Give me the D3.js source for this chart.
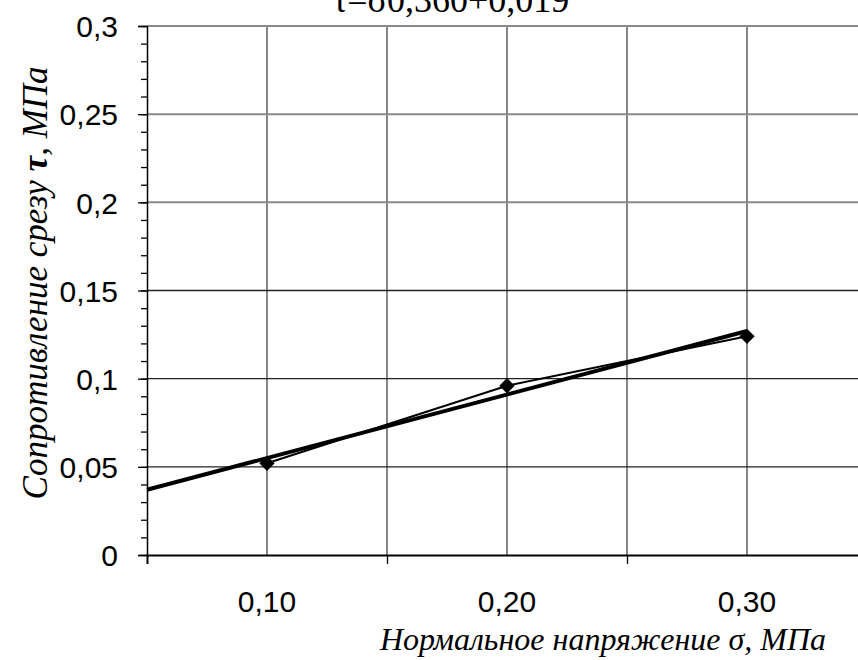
<!DOCTYPE html>
<html>
<head>
<meta charset="utf-8">
<script src="https://cdn.jsdelivr.net/npm/d3@7"></script>
<style>
  body { margin: 0; background: #fff; }
  svg { display: block; }
</style>
</head>
<body>
<div id="chart"></div>
<script>
// data
const sigma = [0.10, 0.20, 0.30];
const tau = [0.052, 0.096, 0.124];
const trendSlope = 0.360;
const trendIntercept = 0.019;
const trendRange = [0.05, 0.30];
const xTickLabels = ["0,10", "0,20", "0,30"];
const yTicks = [0, 0.05, 0.1, 0.15, 0.2, 0.25, 0.3];
const titleText = "τ=σ0,360+0,019";

const width = 858, height = 660;
const svg = d3.select("#chart").append("svg")
    .attr("width", width)
    .attr("height", height);

const x = d3.scaleLinear().domain([0.05, 0.35]).range([147, 867]);
const y = d3.scaleLinear().domain([0, 0.3]).range([555, 26]);

const sans = "Liberation Sans, Arial, sans-serif";
const serif = "Liberation Serif, Times New Roman, serif";

// gridlines
const xGrid = d3.range(0.10, 0.351, 0.05);
svg.append("g").selectAll("line")
    .data(xGrid)
    .enter()
    .append("line")
        .attr("x1", d => x(d)).attr("x2", d => x(d))
        .attr("y1", y(0)).attr("y2", y(0.3))
        .attr("stroke", "#444")
        .attr("stroke-width", 1.3);

svg.append("g").selectAll("line")
    .data(yTicks.slice(1))
    .enter()
    .append("line")
        .attr("x1", x(0.05)).attr("x2", width)
        .attr("y1", d => y(d)).attr("y2", d => y(d))
        .attr("stroke", d => d > 0.17 ? "#888" : "#222")
        .attr("stroke-width", d => d > 0.17 ? 2 : 1.3);

// y axis
const fmt = d => String(+d.toFixed(2)).replace(".", ",");
const yAxis = svg.append("g")
    .attr("transform", `translate(${x(0.05)},0)`)
    .call(d3.axisLeft(y).tickValues(yTicks).tickSize(9).tickPadding(20).tickFormat(fmt));
svg.append("g")
    .attr("transform", `translate(${x(0.05)},0)`)
    .call(d3.axisLeft(y).tickValues(d3.range(0, 0.301, 0.01)).tickSize(6).tickFormat(""))
    .select(".domain").remove();

yAxis.selectAll("text")
    .attr("font-family", sans)
    .attr("font-size", 30)
    .attr("fill", "#000")
    .attr("dy", "0.36em");

svg.selectAll(".tick line").attr("stroke", "#000").attr("stroke-width", 1.3);
yAxis.select(".domain").attr("stroke", "#000").attr("stroke-width", 1.5);

// x axis
const xAxis = svg.append("g")
    .attr("transform", `translate(0,${y(0)})`)
    .call(d3.axisBottom(x).tickValues([0.05, 0.15, 0.25]).tickSize(9).tickFormat(""));
xAxis.select(".domain").attr("stroke", "#000").attr("stroke-width", 1.8);
xAxis.selectAll(".tick line").attr("stroke", "#000").attr("stroke-width", 1.3);

svg.append("g").selectAll("text")
    .data(sigma)
    .enter()
    .append("text")
        .attr("x", d => x(d))
        .attr("y", 612)
        .attr("text-anchor", "middle")
        .attr("font-family", sans)
        .attr("font-size", 30)
        .text((d, i) => xTickLabels[i]);

// trend line
svg.append("line")
    .attr("x1", x(trendRange[0]))
    .attr("y1", y(trendSlope * trendRange[0] + trendIntercept))
    .attr("x2", x(trendRange[1]))
    .attr("y2", y(trendSlope * trendRange[1] + trendIntercept))
    .attr("stroke", "#000")
    .attr("stroke-width", 4);

// data line + markers
const pts = sigma.map((s, i) => [s, tau[i]]);
svg.append("path")
    .datum(pts)
    .attr("d", d3.line().x(d => x(d[0])).y(d => y(d[1])))
    .attr("fill", "none")
    .attr("stroke", "#000")
    .attr("stroke-width", 2);

svg.append("g").selectAll("path")
    .data(pts)
    .enter()
    .append("path")
        .attr("transform", d => `translate(${x(d[0])},${y(d[1])})`)
        .attr("d", d3.symbol().type(d3.symbolDiamond2).size(150))
        .attr("fill", "#000");

// titles
svg.append("text")
    .attr("x", 451)
    .attr("y", 12)
    .attr("text-anchor", "middle")
    .attr("font-family", serif)
    .attr("font-size", 36)
    .text(titleText);

const yTitle = svg.append("text")
    .attr("transform", "translate(47,283) rotate(-90)")
    .attr("text-anchor", "middle")
    .attr("font-family", serif)
    .attr("font-style", "italic")
    .attr("font-size", 35);
yTitle.append("tspan").text("Сопротивление срезу ");
yTitle.append("tspan").attr("font-weight", "bold").text("τ");
yTitle.append("tspan").text(", МПа");

svg.append("text")
    .attr("x", 826)
    .attr("y", 650)
    .attr("text-anchor", "end")
    .attr("font-family", serif)
    .attr("font-style", "italic")
    .attr("font-size", 32)
    .text("Нормальное напряжение σ, МПа");
</script>
</body>
</html>
